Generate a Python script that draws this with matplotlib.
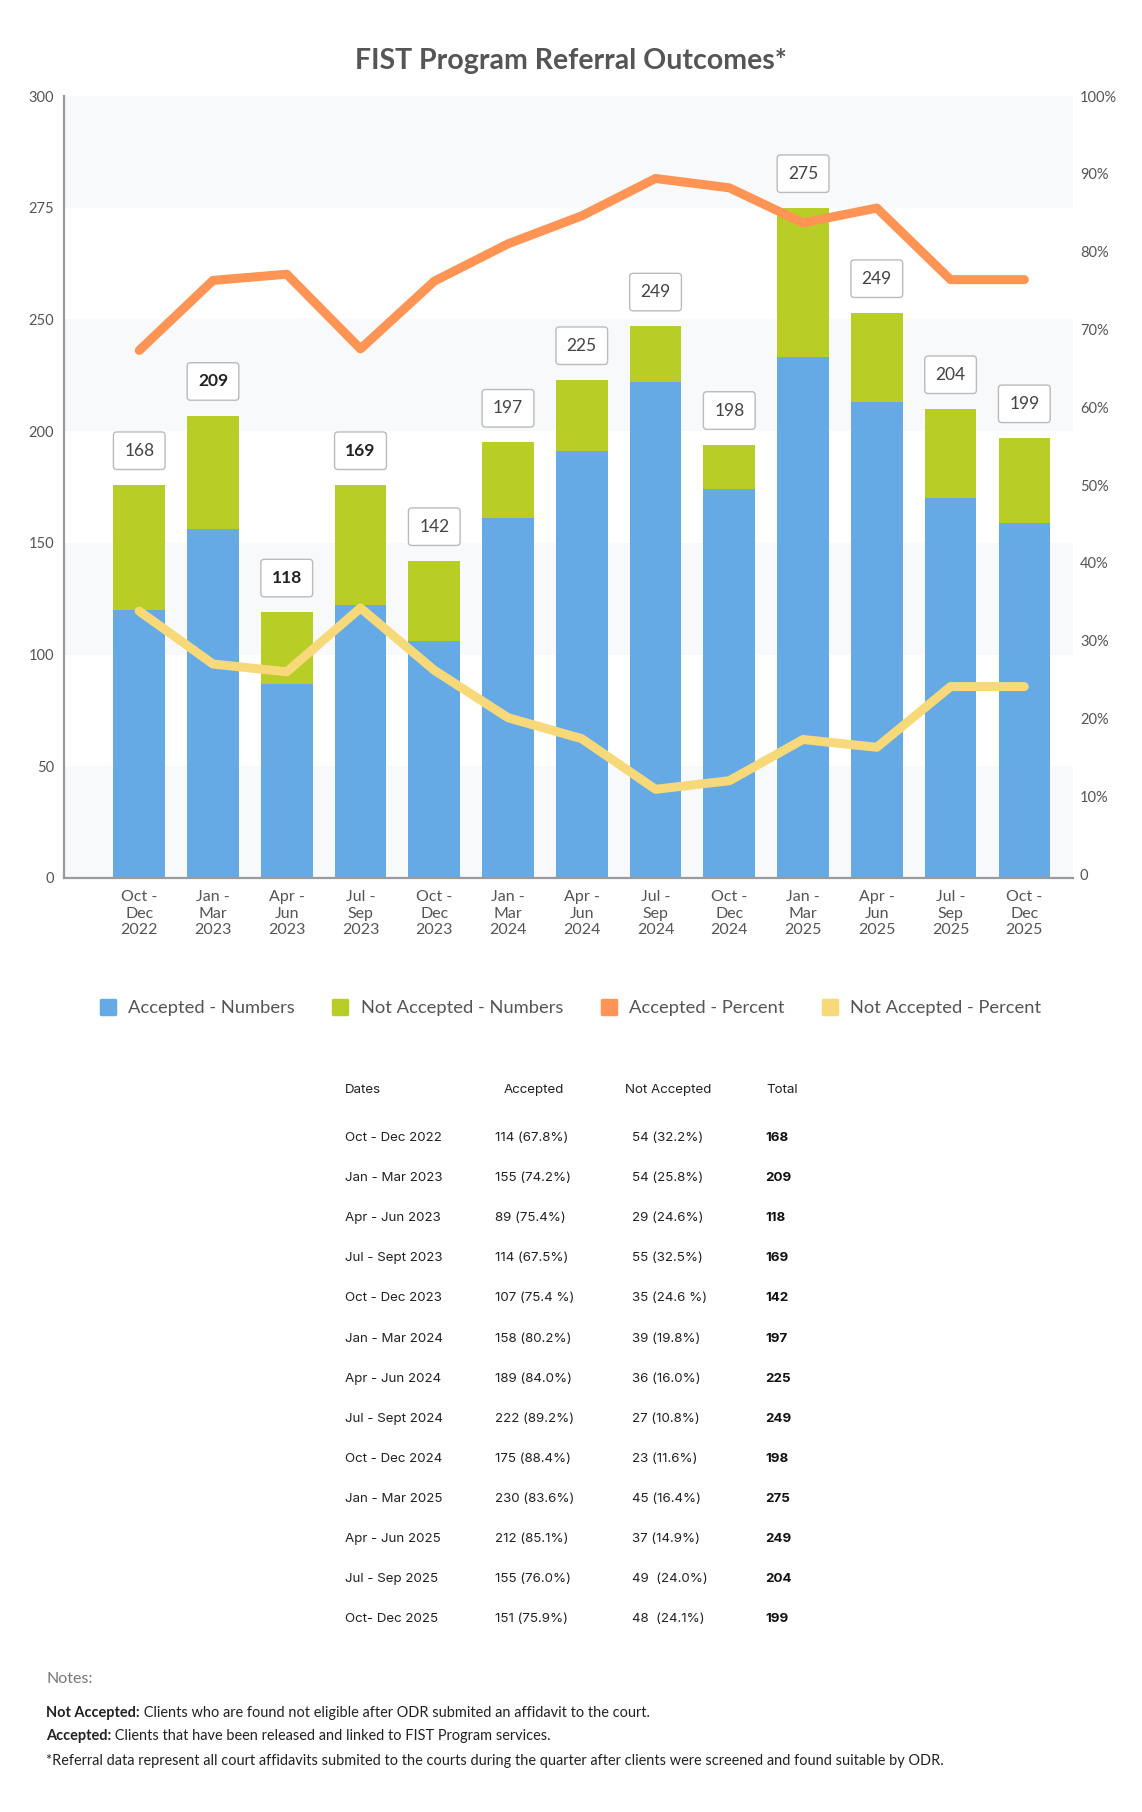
import matplotlib
matplotlib.use("Agg")
import matplotlib.pyplot as plt
from matplotlib.lines import Line2D
from matplotlib.markers import MarkerStyle

plt.rcParams['font.family'] = ['Lato', 'DejaVu Sans']

# quarters on the x axis
quarters = ["Oct -\nDec\n2022", "Jan -\nMar\n2023", "Apr -\nJun\n2023", "Jul -\nSep\n2023",
            "Oct -\nDec\n2023", "Jan -\nMar\n2024", "Apr -\nJun\n2024", "Jul -\nSep\n2024",
            "Oct -\nDec\n2024", "Jan -\nMar\n2025", "Apr -\nJun\n2025", "Jul -\nSep\n2025",
            "Oct -\nDec\n2025"]

# bar heights as drawn (left axis units)
accepted_bar = [120, 156, 87, 122, 106, 161, 191, 222, 174, 233, 213, 170, 159]
not_accepted_bar = [56, 51, 32, 54, 36, 34, 32, 25, 20, 67, 40, 40, 38]
totals = [168, 209, 118, 169, 142, 197, 225, 249, 198, 275, 249, 204, 199]
bold_totals = [False, True, True, True, False, False, False, False, False, False, False, False, False]

# percent lines as drawn (right axis)
accepted_pct = [67.3, 76.3, 77.1, 67.5, 76.2, 81.0, 84.6, 89.4, 88.2, 83.7, 85.6, 76.4, 76.4]
not_accepted_pct = [33.8, 27.0, 26.0, 34.2, 26.2, 20.1, 17.4, 10.9, 12.0, 17.3, 16.3, 24.1, 24.1]

left_ticks = [0, 50, 100, 150, 200, 250, 300, 350]
left_tick_labels = ["0", "50", "100", "150", "200", "250", "275", "300"]
right_ticks = [0, 10, 20, 30, 40, 50, 60, 70, 80, 90, 100]
right_tick_labels = ["0", "10%", "20%", "30%", "40%", "50%", "60%", "70%", "80%", "90%", "100%"]

# table below the chart
table_dates = ["Oct - Dec 2022", "Jan - Mar 2023", "Apr - Jun 2023", "Jul - Sept 2023",
               "Oct - Dec 2023", "Jan - Mar 2024", "Apr - Jun 2024", "Jul - Sept 2024",
               "Oct - Dec 2024", "Jan - Mar 2025", "Apr - Jun 2025", "Jul - Sep 2025",
               "Oct- Dec 2025"]
table_accepted = ["114 (67.8%)", "155 (74.2%)", "89 (75.4%)", "114 (67.5%)", "107 (75.4 %)",
                  "158 (80.2%)", "189 (84.0%)", "222 (89.2%)", "175 (88.4%)", "230 (83.6%)",
                  "212 (85.1%)", "155 (76.0%)", "151 (75.9%)"]
table_not_accepted = ["54 (32.2%)", "54 (25.8%)", "29 (24.6%)", "55 (32.5%)", "35 (24.6 %)",
                      "39 (19.8%)", "36 (16.0%)", "27 (10.8%)", "23 (11.6%)", "45 (16.4%)",
                      "37 (14.9%)", "49  (24.0%)", "48  (24.1%)"]
table_totals = ["168", "209", "118", "169", "142", "197", "225", "249", "198", "275", "249", "204", "199"]

BLUE = '#65aae5'
GREEN = '#b8cd25'
ORANGE = '#ff9455'
YELLOW = '#f8d97a'
TXT = '#555555'

W, H = 1142, 1812
fig = plt.figure(figsize=(W / 100, H / 100), dpi=100)


def px(x, y):
    return x / W, 1 - y / H


ax = fig.add_axes([64 / W, 1 - 878 / H, (1073 - 64) / W, (878 - 96) / H])
x = list(range(len(quarters)))

for i in range(0, 7, 2):
    ax.axhspan(i * 50, (i + 1) * 50, color='#f8f9fa', zorder=0, lw=0)

ax.bar(x, accepted_bar, width=0.7, color=BLUE, zorder=2)
ax.bar(x, not_accepted_bar, width=0.7, bottom=accepted_bar, color=GREEN, zorder=2)
ax.set_xlim(-1.02, 12.66)
ax.set_ylim(0, 350)
ax.set_yticks(left_ticks)
ax.set_yticklabels(left_tick_labels)
ax.set_xticks(x)
ax.set_xticklabels(quarters, linespacing=1.2)
ax.tick_params(axis='y', length=0, pad=7, labelsize=10.5, labelcolor=TXT)
ax.tick_params(axis='x', length=0, pad=9, labelsize=11.5, labelcolor=TXT)
for s in ['top', 'right']:
    ax.spines[s].set_visible(False)
for s in ['left', 'bottom']:
    ax.spines[s].set_color('#9a9a9a')
    ax.spines[s].set_linewidth(1.6)

ax2 = ax.twinx()
ax2.set_ylim(-0.5, 100)
ax2.plot(x, accepted_pct, color=ORANGE, lw=6.5, solid_capstyle='round', solid_joinstyle='round', zorder=3)
ax2.plot(x, not_accepted_pct, color=YELLOW, lw=6.5, solid_capstyle='round', solid_joinstyle='round', zorder=3)
ax2.set_yticks(right_ticks)
ax2.set_yticklabels(right_tick_labels)
ax2.tick_params(axis='y', length=0, pad=5, labelsize=10.5, labelcolor=TXT)
for s in ['top', 'right', 'left', 'bottom']:
    ax2.spines[s].set_visible(False)

# total labels in boxes above each bar
for i in x:
    top = accepted_bar[i] + not_accepted_bar[i]
    ax2.annotate(str(totals[i]), xy=(i, top), xycoords=ax.transData,
                 xytext=(0, 24.5), textcoords='offset points',
                 ha='center', va='center', fontsize=12.5,
                 fontweight='bold' if bold_totals[i] else 'normal',
                 color='#222222' if bold_totals[i] else '#444444',
                 bbox=dict(boxstyle='round,pad=0.62,rounding_size=0.2', fc='white', ec='#bbbbbb', lw=1),
                 zorder=5)

fig.text(*px(571, 61), "FIST Program Referral Outcomes*", ha='center', va='center',
         fontsize=20.5, fontweight='bold', color=TXT)

# legend
colors = [BLUE, GREEN, ORANGE, YELLOW]
names = ["Accepted - Numbers", "Not Accepted - Numbers", "Accepted - Percent", "Not Accepted - Percent"]
handles = [Line2D([], [], linestyle='', marker=MarkerStyle('s', joinstyle='round'), markersize=10,
                  markerfacecolor=c, markeredgecolor=c, markeredgewidth=2.5) for c in colors]
fig.legend(handles, names, loc='center', bbox_to_anchor=px(571, 1008), ncol=4, frameon=False,
           fontsize=13.2, handlelength=0.8, handletextpad=0.7, columnspacing=2.1, labelcolor=TXT)

# table
TFONT = ['Inter', 'DejaVu Sans']
col_x = [345, 495, 632, 765]
fig.text(*px(345, 1090), "Dates", fontsize=9.6, va='center', color='#222222', family=TFONT)
fig.text(*px(504, 1090), "Accepted", fontsize=9.6, va='center', color='#222222', family=TFONT)
fig.text(*px(625, 1090), "Not Accepted", fontsize=9.6, va='center', color='#222222', family=TFONT)
fig.text(*px(766, 1090), "Total", fontsize=9.6, va='center', color='#222222', family=TFONT)
for r in range(len(table_dates)):
    y = 1138 + r * 40.1
    fig.text(*px(col_x[0], y), table_dates[r], fontsize=9.6, va='center', color='#222222', family=TFONT)
    fig.text(*px(col_x[1], y), table_accepted[r], fontsize=9.6, va='center', color='#222222', family=TFONT)
    fig.text(*px(col_x[2], y), table_not_accepted[r], fontsize=9.6, va='center', color='#222222', family=TFONT)
    fig.text(*px(col_x[3], y), table_totals[r], fontsize=9.6, va='center', color='#111111',
             fontweight='bold', family=TFONT)

# notes
fig.text(*px(46, 1679), "Notes:", fontsize=11.5, va='center', color='#777777')
notes = [("Not Accepted:", " Clients who are found not eligible after ODR submited an affidavit to the court."),
         ("Accepted:", " Clients that have been released and linked to FIST Program services.")]
for k, (b, rest) in enumerate(notes):
    t = fig.text(*px(46, [1713, 1736][k]), b, fontsize=10.45, va='center', fontweight='bold', color='#222222')
    ax.annotate(rest, xy=(1, 0.5), xycoords=t, va='center', ha='left', fontsize=10.45,
                color='#222222', annotation_clip=False)
fig.text(*px(46, 1761), "*Referral data represent all court affidavits submited to the courts during the quarter "
         "after clients were screened and found suitable by ODR.", fontsize=10.45, va='center', color='#222222')

fig.savefig('out.png', dpi=100, facecolor='white')
